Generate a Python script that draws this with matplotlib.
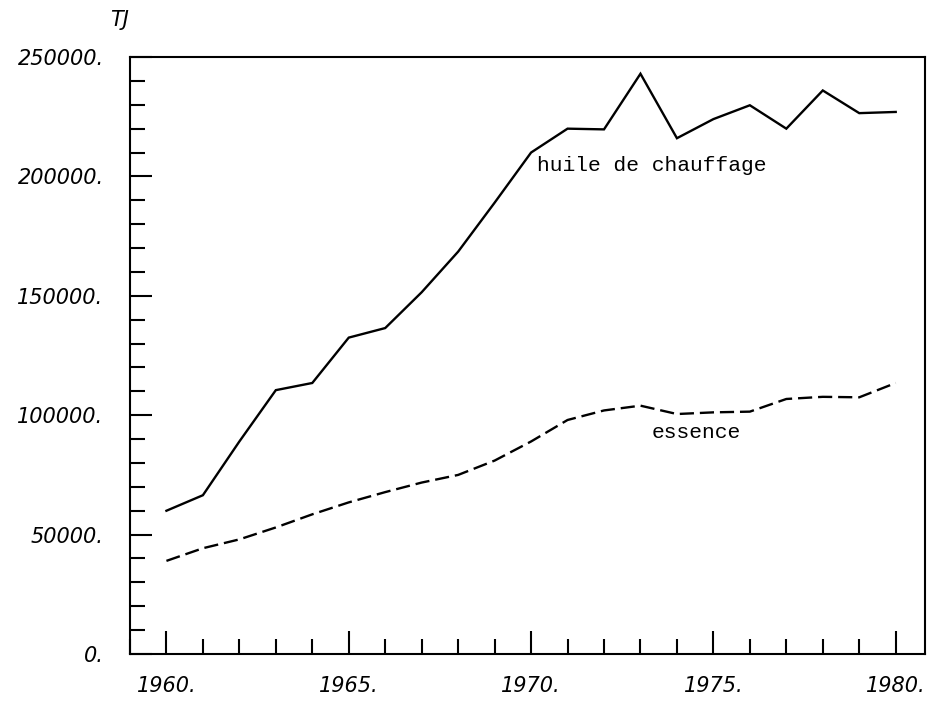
import matplotlib
matplotlib.use('Agg')
import matplotlib.pyplot as plt
from matplotlib.ticker import MultipleLocator

YEARS = list(range(1960, 1981))
HUILE = [60000, 66500, 89000, 110500, 113500, 132500, 136500, 151500, 168500, 189000,
         210000, 220000, 219700, 243000, 216000, 224000, 229800, 220000, 236000, 226500, 227000]
ESSENCE = [39000, 44300, 48000, 53000, 58500, 63500, 67800, 71800, 75000, 81000,
           89000, 98000, 102000, 104000, 100500, 101200, 101500, 106800, 107700, 107500, 113500]
X_TICKS = [1960, 1965, 1970, 1975, 1980]
Y_TICKS = [0, 50000, 100000, 150000, 200000, 250000]


def main():
    fig = plt.figure(figsize=(9.33, 7.04), dpi=100)
    ax = fig.add_axes([0.1393, 0.071, 0.852, 0.848])

    ax.plot(YEARS, HUILE, color='black', lw=1.7, solid_joinstyle='miter')
    ax.plot(YEARS, ESSENCE, color='black', lw=1.7, ls=(0, (6, 2.5)))

    ax.text(1970.15, 204500, 'huile de chauffage', family='Liberation Mono', fontsize=15.3,
            va='center', ha='left')
    ax.text(1973.3, 92700, 'essence', family='Liberation Mono', fontsize=15.3,
            va='center', ha='left')

    ax.set_xlim(1959.0, 1980.8)
    ax.set_ylim(0, 250000)

    ax.set_xticks(X_TICKS)
    ax.set_xticklabels([f'{x}.' for x in X_TICKS])
    ax.xaxis.set_minor_locator(MultipleLocator(1))
    ax.set_yticks(Y_TICKS)
    ax.set_yticklabels([f'{y}.' for y in Y_TICKS])
    ax.yaxis.set_minor_locator(MultipleLocator(10000))

    ax.tick_params(axis='both', which='major', direction='in', width=1.5, labelsize=15)
    ax.tick_params(axis='both', which='minor', direction='in', width=1.5, length=10.5)
    ax.tick_params(axis='x', which='major', length=16.5, pad=16)
    ax.tick_params(axis='y', which='major', length=16, pad=19)
    for lab in ax.get_xticklabels() + ax.get_yticklabels():
        lab.set_fontstyle('italic')

    for s in ax.spines.values():
        s.set_linewidth(1.5)

    fig.text(0.118, 0.972, 'TJ', fontsize=15, fontstyle='italic', family='DejaVu Sans',
             va='center', ha='left')

    fig.savefig('out.png', dpi=100)


if __name__ == '__main__':
    main()
